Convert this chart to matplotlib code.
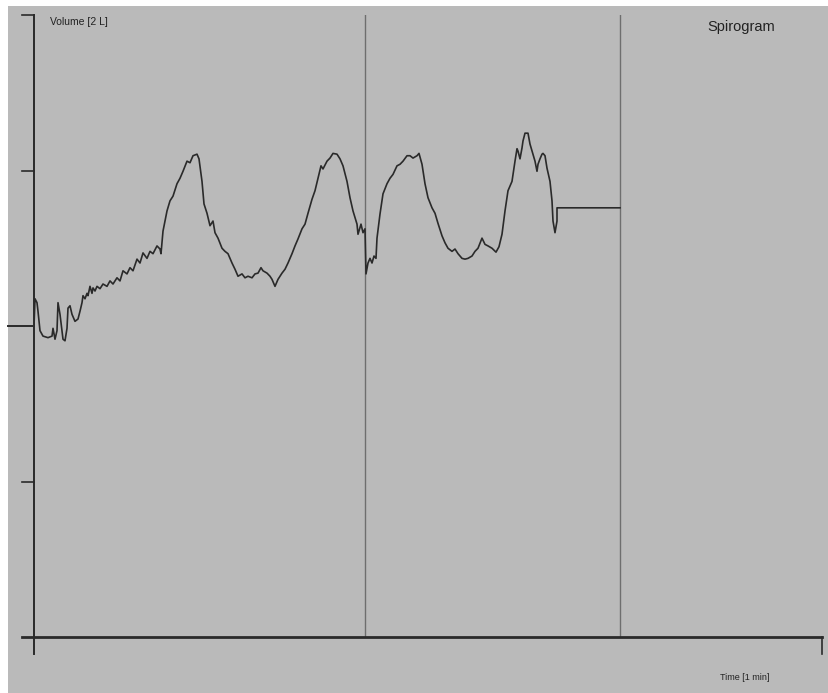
import matplotlib
matplotlib.use("Agg")
import matplotlib.pyplot as plt
from matplotlib.patches import Rectangle

# spirogram trace: time [s], volume [L]
t = [0.0, 0.1, 0.3, 0.4, 0.6, 0.9, 1.4, 1.8, 1.9, 2.1, 2.3, 2.4, 2.6, 2.9, 3.1, 3.3, 3.4, 3.6, 3.8, 4.1,
     4.4, 4.6, 4.8, 4.9, 5.1, 5.3, 5.4, 5.6, 5.8, 5.9, 6.1, 6.3, 6.6, 6.9, 7.3, 7.6, 7.9, 8.3, 8.6, 8.9,
     9.3, 9.6, 9.9, 10.3, 10.6, 10.9, 11.3, 11.6, 11.9, 12.3, 12.6, 12.7, 12.9, 13.3, 13.6, 13.9, 14.3, 14.6, 14.9, 15.3,
     15.6, 15.9, 16.3, 16.5, 16.8, 17.0, 17.3, 17.6, 17.9, 18.1, 18.4, 18.8, 19.1, 19.4, 19.8, 20.1, 20.4, 20.8, 21.1, 21.4,
     21.8, 22.1, 22.4, 22.7, 22.9, 23.3, 23.6, 23.8, 24.1, 24.4, 24.8, 25.1, 25.4, 25.8, 26.1, 26.4, 26.8, 27.1, 27.4, 27.8,
     28.1, 28.4, 28.7, 28.9, 29.3, 29.6, 29.9, 30.3, 30.6, 30.9, 31.3, 31.6, 31.9, 32.3, 32.4, 32.7, 32.9, 33.1,
     33.2, 33.4, 33.6, 33.8, 34.0, 34.2, 34.3, 34.6, 34.9, 35.3, 35.6, 35.9, 36.3, 36.6, 36.9, 37.3, 37.6, 37.9, 38.3, 38.5,
     38.8, 39.1, 39.4, 39.8, 40.1, 40.4, 40.8, 41.1, 41.4, 41.8, 42.1, 42.4, 42.8, 43.1, 43.4, 43.8, 44.1, 44.4, 44.8, 45.1,
     45.4, 45.8, 46.2, 46.5, 46.8, 47.1, 47.4, 47.8, 48.1, 48.3, 48.4, 48.6, 48.8, 48.9, 49.1, 49.4, 49.6, 49.8, 50.1, 50.3,
     50.4, 50.6, 50.8, 50.9, 51.1, 51.3, 51.6, 51.8, 51.9, 52.1, 52.3, 52.3, 58.6]
vol = [0.00, 0.35, 0.30, 0.19, -0.06, -0.13, -0.15, -0.13, -0.03, -0.17, -0.06, 0.30, 0.15, -0.17, -0.19, -0.03, 0.23, 0.26, 0.15, 0.06,
       0.09, 0.19, 0.30, 0.39, 0.35, 0.42, 0.39, 0.51, 0.42, 0.49, 0.45, 0.51, 0.48, 0.54, 0.51, 0.58, 0.54, 0.62, 0.58, 0.71,
       0.67, 0.75, 0.71, 0.86, 0.81, 0.94, 0.87, 0.96, 0.93, 1.03, 0.99, 0.93, 1.22, 1.48, 1.61, 1.67, 1.83, 1.90, 1.99, 2.12,
       2.10, 2.19, 2.21, 2.15, 1.86, 1.57, 1.45, 1.29, 1.35, 1.20, 1.13, 1.00, 0.96, 0.93, 0.81, 0.73, 0.64, 0.67, 0.62, 0.64,
       0.62, 0.67, 0.68, 0.75, 0.71, 0.68, 0.64, 0.60, 0.51, 0.60, 0.68, 0.73, 0.81, 0.93, 1.03, 1.12, 1.25, 1.31, 1.45, 1.63,
       1.74, 1.90, 2.06, 2.02, 2.12, 2.16, 2.22, 2.21, 2.15, 2.06, 1.86, 1.65, 1.48, 1.31, 1.18, 1.31, 1.20, 1.25,
       0.67, 0.81, 0.87, 0.81, 0.90, 0.87, 1.13, 1.44, 1.70, 1.83, 1.90, 1.95, 2.06, 2.08, 2.12, 2.19, 2.19, 2.16, 2.19, 2.22,
       2.08, 1.83, 1.65, 1.52, 1.45, 1.32, 1.16, 1.07, 1.00, 0.96, 0.99, 0.93, 0.87, 0.86, 0.87, 0.90, 0.96, 1.00, 1.13, 1.05,
       1.03, 1.00, 0.95, 1.02, 1.18, 1.48, 1.74, 1.86, 2.12, 2.28, 2.25, 2.15, 2.29, 2.38, 2.48, 2.48, 2.34, 2.25, 2.12, 1.99,
       2.08, 2.15, 2.21, 2.22, 2.19, 2.03, 1.86, 1.61, 1.35, 1.20, 1.35, 1.52, 1.52]

page_marks = [33.1, 58.6]
y_ticks = [-2, 2, 4]

bg = "#bababa"
plt.rcParams['font.family'] = ['Liberation Sans', 'DejaVu Sans']

fig = plt.figure(figsize=(8.29, 6.93), dpi=100, facecolor="white")
fig.patches.append(Rectangle((8/829, 0), 1, 1 - 6/693, transform=fig.transFigure,
                             facecolor=bg, edgecolor="none", zorder=-10))

ax = fig.add_axes([34/829, 56/693, 788/829, 622/693])
ax.set_facecolor("none")
ax.set_zorder(5)
ax.set_xlim(0, 78.8)
ax.set_ylim(-4, 4)
for s in ax.spines.values():
    s.set_visible(False)
ax.set_xticks([])
ax.set_yticks([])

# page separators
for x in page_marks:
    ax.plot([x, x], [-4, 4], color="#6e6e6e", lw=1.0, zorder=1)

# axes drawn by hand
ax.plot([0, 0], [-4.22, 4], color="#2a2a2a", lw=1.4, clip_on=False)
ax.plot([-1.2, 78.8], [-4, -4], color="#2a2a2a", lw=2.0, clip_on=False)
ax.plot([78.8, 78.8], [-4, -4.22], color="#2a2a2a", lw=1.2, clip_on=False)
for yt in y_ticks:
    ax.plot([-1.2, 0], [yt, yt], color="#2a2a2a", lw=1.2, clip_on=False)
ax.plot([-2.6, 0], [0, 0], color="#2a2a2a", lw=1.4, clip_on=False)

ax.plot(t, vol, color="#2a2a2a", lw=1.2, zorder=3)

fig.text(50/829, 1 - 22/693, "Volume [2 L]", fontsize=7.5, va="center", ha="left", color="#222222", zorder=6)
fig.text(741/829, 1 - 27/693, "Spirogram", fontsize=10.5, va="center", ha="center", color="#222222", zorder=6)
fig.text(745/829, 1 - 678/693, "Time [1 min]", fontsize=6.5, va="center", ha="center", color="#222222", zorder=6)

fig.savefig("out.png", dpi=100, facecolor="white")
